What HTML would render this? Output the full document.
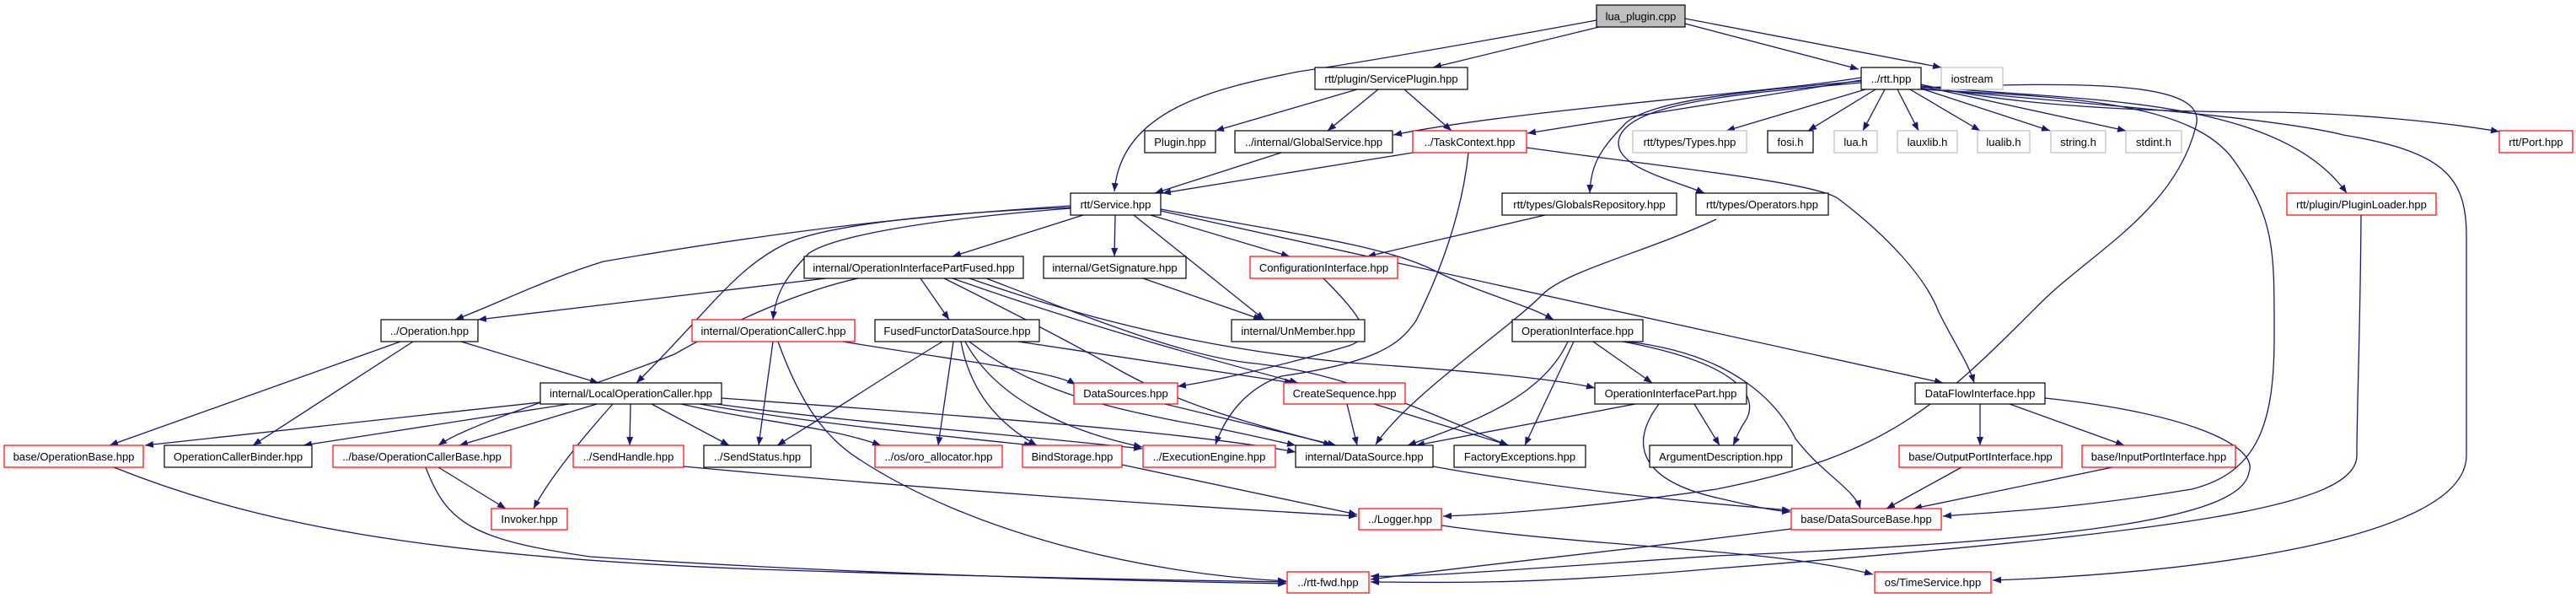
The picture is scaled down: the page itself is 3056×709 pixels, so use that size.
<!DOCTYPE html>
<html><head><meta charset="utf-8"><style>
html,body{margin:0;padding:0;background:#fff;}
svg{display:block;}
.e{fill:none;stroke:#191970;stroke-width:1.3;marker-end:url(#a);}
.n{fill:#fff;stroke:#000;stroke-width:1.2;}
.r{fill:#fff;stroke:#ff0000;stroke-width:1.2;}
.g{fill:#fff;stroke:#bfbfbf;stroke-width:1.2;}
.s{fill:#bfbfbf;stroke:#000;stroke-width:1.2;}
text{font-family:"Liberation Sans",Arial,sans-serif;font-size:13px;fill:#000;text-anchor:middle;}
</style></head><body>
<svg width="3056" height="709" viewBox="0 0 3056 709" xmlns="http://www.w3.org/2000/svg">
<defs><marker id="a" markerUnits="userSpaceOnUse" markerWidth="11" markerHeight="8" refX="10" refY="4" orient="auto"><path d="M0,0 L10,4 L0,8 z" fill="#191970"/></marker></defs>
<g>
<path class="e" d="M1894,24 C1780,45 1640,70 1540,85 C1440,105 1330,130 1322,227"/>
<path class="e" d="M1897,32 L1700,80"/>
<path class="e" d="M1999,28 L2205,82"/>
<path class="e" d="M1999,22 L2303,80"/>
<path class="e" d="M1610,106 L1442,155"/>
<path class="e" d="M1635,106 L1575,155"/>
<path class="e" d="M1666,106 L1722,155"/>
<path class="e" d="M2208,92 C2100,110 1800,130 1653,160"/>
<path class="e" d="M2208,95 L1812,158"/>
<path class="e" d="M2213,106 L2048,155"/>
<path class="e" d="M2225,106 L2145,155"/>
<path class="e" d="M2236,106 L2210,155"/>
<path class="e" d="M2251,106 L2276,155"/>
<path class="e" d="M2266,106 L2349,155"/>
<path class="e" d="M2276,104 L2432,155"/>
<path class="e" d="M2279,102 L2522,155"/>
<path class="e" d="M2279,100 C2400,130 2600,133 2700,133 C2800,135 2900,145 2965,156"/>
<path class="e" d="M2279,102 C2450,120 2700,110 2784,229"/>
<path class="e" d="M2208,96 C2120,105 1950,115 1925,150 C1895,180 1887,200 1886,229"/>
<path class="e" d="M2208,98 C2080,110 1920,120 1920,170 C1920,200 1990,215 2022,229"/>
<path class="e" d="M2279,104 C2500,95 2620,100 2605,150 C2580,250 2480,300 2420,360 C2300,480 2240,540 2036,580 C1900,600 1780,610 1712,612"/>
<path class="e" d="M2279,106 C2450,115 2600,120 2650,190 C2700,260 2698,300 2698,400 C2698,500 2680,560 2600,580 C2450,605 2350,608 2305,612"/>
<path class="e" d="M2279,105 C2500,125 2700,140 2780,160 C2900,180 2926,210 2926,280 L2926,540 C2926,640 2600,680 2364,688"/>
<path class="e" d="M1676,181 L1379,229"/>
<path class="e" d="M1520,181 L1370,229"/>
<path class="e" d="M1742,181 C1735,250 1710,320 1680,380 C1660,410 1630,430 1520,446 C1480,460 1455,490 1442,527"/>
<path class="e" d="M1811,175 C1950,195 2150,215 2180,235 C2240,280 2285,330 2300,370 C2320,410 2335,430 2342,454"/>
<path class="e" d="M1833,255 L1622,304"/>
<path class="e" d="M2036,260 C1950,300 1860,320 1830,349 C1790,390 1670,470 1632,527"/>
<path class="e" d="M2801,255 C2800,400 2796,480 2796,540 C2796,600 2600,630 2036,674 C1800,695 1700,690 1626,690"/>
<path class="e" d="M2426,472 C2600,490 2680,530 2668,560 C2660,610 2500,640 2036,659 C1800,675 1680,685 1626,683"/>
<path class="e" d="M2349,479 L2349,528"/>
<path class="e" d="M2384,479 L2520,528"/>
<path class="e" d="M2327,554 L2238,603"/>
<path class="e" d="M2506,554 L2270,603"/>
<path class="e" d="M2125,627 C1950,650 1750,670 1626,687"/>
<path class="e" d="M1710,623 C1900,650 2100,650 2222,681"/>
<path class="e" d="M1285,255 L1130,304"/>
<path class="e" d="M1323,255 L1322,304"/>
<path class="e" d="M1365,255 L1530,304"/>
<path class="e" d="M1345,255 L1500,379"/>
<path class="e" d="M1356,330 L1497,379"/>
<path class="e" d="M1377,248 C1520,275 1640,290 1700,320 C1760,350 1810,360 1843,379"/>
<path class="e" d="M1377,250 L2305,454"/>
<path class="e" d="M1270,244 C1100,255 950,270 716,310 C650,330 590,360 540,379"/>
<path class="e" d="M1270,246 C1050,255 960,275 930,290 C870,320 840,370 755,454"/>
<path class="e" d="M1270,247 C1100,260 990,280 960,300 C930,330 920,350 917,379"/>
<path class="e" d="M980,330 L567,379"/>
<path class="e" d="M1018,330 C950,345 870,380 800,420 C700,460 560,500 520,528"/>
<path class="e" d="M1092,330 L1126,379"/>
<path class="e" d="M1120,330 C1180,360 1260,400 1330,440 C1420,490 1520,510 1580,528"/>
<path class="e" d="M1130,330 C1300,390 1450,430 1540,454"/>
<path class="e" d="M1150,330 C1350,400 1500,420 1600,430 C1750,440 1850,450 1892,460"/>
<path class="e" d="M1170,330 C1300,380 1400,420 1480,430 C1580,440 1650,470 1789,528"/>
<path class="e" d="M1570,330 C1620,380 1630,400 1600,410 C1500,440 1420,455 1397,458"/>
<path class="e" d="M1208,405 L1534,454"/>
<path class="e" d="M1131,405 L1113,528"/>
<path class="e" d="M1140,405 C1150,460 1180,500 1230,528"/>
<path class="e" d="M1145,405 C1180,470 1260,510 1355,530"/>
<path class="e" d="M1150,405 C1220,460 1300,480 1400,500 C1460,510 1500,520 1537,528"/>
<path class="e" d="M1118,405 C1060,440 1000,480 922,528"/>
<path class="e" d="M1000,405 C1150,430 1250,440 1276,456"/>
<path class="e" d="M917,405 L900,528"/>
<path class="e" d="M923,405 C950,480 980,520 1020,545 C1150,630 1350,680 1526,689"/>
<path class="e" d="M475,405 L130,528"/>
<path class="e" d="M490,405 L300,528"/>
<path class="e" d="M547,405 L710,454"/>
<path class="e" d="M641,477 L172,528"/>
<path class="e" d="M675,479 L360,528"/>
<path class="e" d="M708,479 L545,528"/>
<path class="e" d="M727,479 C690,520 650,570 633,603"/>
<path class="e" d="M748,479 L747,528"/>
<path class="e" d="M773,479 L865,528"/>
<path class="e" d="M808,479 C900,500 980,505 1045,528"/>
<path class="e" d="M830,479 C950,500 1100,515 1225,528"/>
<path class="e" d="M850,479 C1000,500 1200,515 1355,532"/>
<path class="e" d="M856,472 C1100,490 1400,510 1537,536"/>
<path class="e" d="M811,553 C1100,580 1400,600 1610,612"/>
<path class="e" d="M135,554 C300,620 500,660 900,675 C1200,685 1400,688 1526,690"/>
<path class="e" d="M520,554 L600,603"/>
<path class="e" d="M505,554 C530,620 560,640 700,660 C1000,680 1300,688 1526,692"/>
<path class="e" d="M1331,551 L1610,610"/>
<path class="e" d="M1382,479 L1585,528"/>
<path class="e" d="M1598,479 L1610,528"/>
<path class="e" d="M1630,479 L1790,528"/>
<path class="e" d="M1890,405 L1960,454"/>
<path class="e" d="M1860,405 C1830,470 1750,500 1670,528"/>
<path class="e" d="M1867,405 L1809,528"/>
<path class="e" d="M1925,405 C2060,430 2090,470 2070,500 C2060,515 2060,520 2056,528"/>
<path class="e" d="M1930,405 C2060,420 2110,480 2130,520 C2160,560 2200,580 2207,603"/>
<path class="e" d="M1940,479 L1680,528"/>
<path class="e" d="M2010,479 L2040,528"/>
<path class="e" d="M1968,479 C1930,530 1950,570 2036,590 C2080,600 2100,605 2124,607"/>
<path class="e" d="M1700,553 C1850,580 2000,595 2124,605"/>
</g>
<g>
<rect class="s" x="1894" y="6" width="105" height="26"/><text x="1946.5" y="24">lua_plugin.cpp</text>
<rect class="n" x="1560" y="80" width="181" height="26"/><text x="1650.5" y="98">rtt/plugin/ServicePlugin.hpp</text>
<rect class="n" x="2208" y="80" width="71" height="26"/><text x="2243.5" y="98">../rtt.hpp</text>
<rect class="g" x="2303" y="80" width="73" height="26"/><text x="2339.5" y="98">iostream</text>
<rect class="n" x="1358" y="155" width="84" height="26"/><text x="1400" y="173">Plugin.hpp</text>
<rect class="n" x="1465" y="155" width="187" height="26"/><text x="1558.5" y="173">../internal/GlobalService.hpp</text>
<rect class="r" x="1676" y="155" width="135" height="26"/><text x="1743.5" y="173">../TaskContext.hpp</text>
<rect class="g" x="1937" y="155" width="135" height="26"/><text x="2004.5" y="173">rtt/types/Types.hpp</text>
<rect class="n" x="2097" y="155" width="54" height="26"/><text x="2124" y="173">fosi.h</text>
<rect class="g" x="2176" y="155" width="51" height="26"/><text x="2201.5" y="173">lua.h</text>
<rect class="g" x="2251" y="155" width="71" height="26"/><text x="2286.5" y="173">lauxlib.h</text>
<rect class="g" x="2346" y="155" width="62" height="26"/><text x="2377" y="173">lualib.h</text>
<rect class="g" x="2433" y="155" width="65" height="26"/><text x="2465.5" y="173">string.h</text>
<rect class="g" x="2522" y="155" width="66" height="26"/><text x="2555" y="173">stdint.h</text>
<rect class="r" x="2965" y="155" width="87" height="26"/><text x="3008.5" y="173">rtt/Port.hpp</text>
<rect class="n" x="1270" y="229" width="107" height="26"/><text x="1323.5" y="247">rtt/Service.hpp</text>
<rect class="n" x="1782" y="229" width="207" height="26"/><text x="1885.5" y="247">rtt/types/GlobalsRepository.hpp</text>
<rect class="n" x="2012" y="229" width="157" height="26"/><text x="2090.5" y="247">rtt/types/Operators.hpp</text>
<rect class="r" x="2713" y="229" width="177" height="26"/><text x="2801.5" y="247">rtt/plugin/PluginLoader.hpp</text>
<rect class="n" x="954" y="304" width="260" height="26"/><text x="1084" y="322">internal/OperationInterfacePartFused.hpp</text>
<rect class="n" x="1238" y="304" width="169" height="26"/><text x="1322.5" y="322">internal/GetSignature.hpp</text>
<rect class="r" x="1483" y="304" width="175" height="26"/><text x="1570.5" y="322">ConfigurationInterface.hpp</text>
<rect class="n" x="452" y="379" width="115" height="26"/><text x="509.5" y="397">../Operation.hpp</text>
<rect class="r" x="821" y="379" width="193" height="26"/><text x="917.5" y="397">internal/OperationCallerC.hpp</text>
<rect class="n" x="1038" y="379" width="195" height="26"/><text x="1135.5" y="397">FusedFunctorDataSource.hpp</text>
<rect class="n" x="1461" y="379" width="158" height="26"/><text x="1540" y="397">internal/UnMember.hpp</text>
<rect class="n" x="1794" y="379" width="155" height="26"/><text x="1871.5" y="397">OperationInterface.hpp</text>
<rect class="n" x="641" y="454" width="215" height="25"/><text x="748.5" y="471">internal/LocalOperationCaller.hpp</text>
<rect class="r" x="1274" y="454" width="123" height="25"/><text x="1335.5" y="471">DataSources.hpp</text>
<rect class="r" x="1523" y="454" width="144" height="25"/><text x="1595" y="471">CreateSequence.hpp</text>
<rect class="n" x="1892" y="454" width="180" height="25"/><text x="1982" y="471">OperationInterfacePart.hpp</text>
<rect class="n" x="2272" y="454" width="154" height="25"/><text x="2349" y="471">DataFlowInterface.hpp</text>
<rect class="r" x="5" y="528" width="165" height="26"/><text x="87.5" y="546">base/OperationBase.hpp</text>
<rect class="n" x="195" y="528" width="175" height="26"/><text x="282.5" y="546">OperationCallerBinder.hpp</text>
<rect class="r" x="395" y="528" width="211" height="26"/><text x="500.5" y="546">../base/OperationCallerBase.hpp</text>
<rect class="r" x="680" y="528" width="131" height="26"/><text x="745.5" y="546">../SendHandle.hpp</text>
<rect class="n" x="835" y="528" width="127" height="26"/><text x="898.5" y="546">../SendStatus.hpp</text>
<rect class="r" x="1038" y="528" width="151" height="26"/><text x="1113.5" y="546">../os/oro_allocator.hpp</text>
<rect class="r" x="1213" y="528" width="118" height="26"/><text x="1272" y="546">BindStorage.hpp</text>
<rect class="r" x="1356" y="528" width="157" height="26"/><text x="1434.5" y="546">../ExecutionEngine.hpp</text>
<rect class="n" x="1537" y="528" width="163" height="26"/><text x="1618.5" y="546">internal/DataSource.hpp</text>
<rect class="n" x="1725" y="528" width="156" height="26"/><text x="1803" y="546">FactoryExceptions.hpp</text>
<rect class="n" x="1957" y="528" width="169" height="26"/><text x="2041.5" y="546">ArgumentDescription.hpp</text>
<rect class="r" x="2253" y="528" width="193" height="26"/><text x="2349.5" y="546">base/OutputPortInterface.hpp</text>
<rect class="r" x="2470" y="528" width="182" height="26"/><text x="2561" y="546">base/InputPortInterface.hpp</text>
<rect class="r" x="583" y="603" width="90" height="25"/><text x="628" y="620">Invoker.hpp</text>
<rect class="r" x="1612" y="603" width="98" height="25"/><text x="1661" y="620">../Logger.hpp</text>
<rect class="r" x="2125" y="603" width="178" height="25"/><text x="2214" y="620">base/DataSourceBase.hpp</text>
<rect class="r" x="1527" y="678" width="97" height="25"/><text x="1575.5" y="695">../rtt-fwd.hpp</text>
<rect class="r" x="2224" y="678" width="138" height="25"/><text x="2293" y="695">os/TimeService.hpp</text>
</g>
</svg>
</body></html>
